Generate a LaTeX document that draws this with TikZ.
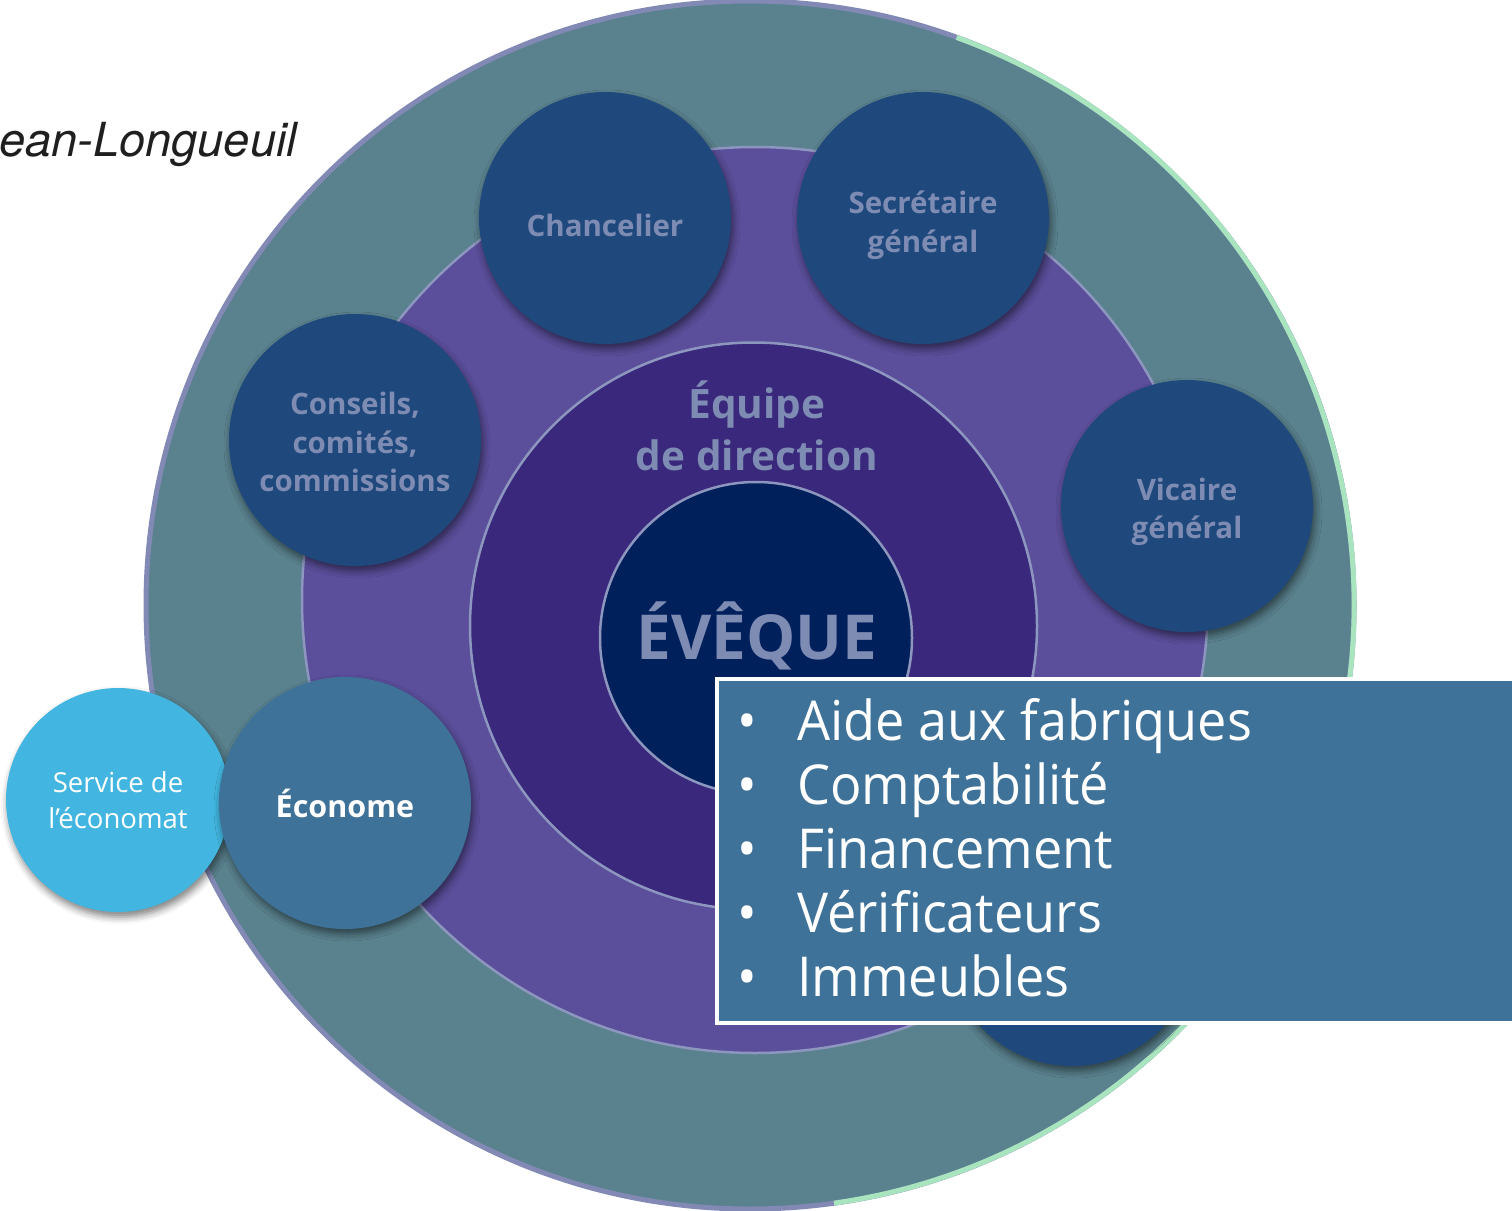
\documentclass[tikz,border=0pt]{standalone}
\usepackage{fontspec}
\setmainfont{Open Sans}
\newfontfamily\listfont[FakeStretch=0.95]{Open Sans}
\newfontfamily\helvfont{TeX Gyre Heros}
\usetikzlibrary{shadows.blur}
\definecolor{ringouter}{HTML}{5A828E}
\definecolor{ringpurple}{HTML}{5B4E9B}
\definecolor{ringdark}{HTML}{3A287C}
\definecolor{corenavy}{HTML}{00205B}
\definecolor{unitblue}{HTML}{1F497D}
\definecolor{econblue}{HTML}{3F7299}
\definecolor{servblue}{HTML}{42B6E0}
\definecolor{ringline}{HTML}{8C96BE}
\definecolor{outerlav}{HTML}{8289B4}
\definecolor{outergreen}{HTML}{A8E4BE}
\definecolor{labelgrey}{HTML}{7E8CB4}
\tikzset{
  ring/.style={circle, inner sep=0pt, outer sep=0pt},
  unit/.style={circle, inner sep=0pt, outer sep=0pt, minimum size=252pt,
    fill=unitblue,
    blur shadow={shadow xshift=2pt, shadow yshift=-5pt, shadow blur radius=7pt, shadow opacity=50}},
  unitlabel/.style={align=center, inner sep=0pt, text=labelgrey,
    font=\bfseries\fontsize{29.5}{38.5}\selectfont},
  listitem/.style={anchor=base west, inner sep=0pt, text=white,
    font=\listfont\fontsize{55}{64}\selectfont}
}
\begin{document}
\begin{tikzpicture}[x=1pt, y=-1pt]
\useasboundingbox (0,0) rectangle (1512,1210);
% rings
\node[ring, minimum size=1208pt, fill=ringouter, draw=outerlav, line width=5pt] (outer) at (750,605) {};
\draw[outergreen, line width=5pt] (outer.70) arc[start angle=-70, end angle=82, radius=604];
\node[ring, minimum size=906pt, fill=ringpurple, draw=ringline, line width=2.5pt] (team) at (755,600) {};
\node[ring, minimum size=567pt, fill=ringdark, draw=ringline, line width=2.5pt] (dir) at (753.5,626) {};
\node[ring, minimum size=312pt, fill=corenavy, draw=ringline, line width=2.5pt] (bishop) at (756,638) {};
% centre labels
\node[align=center, text=labelgrey, font=\bfseries\fontsize{40.5}{52}\selectfont, inner sep=0pt] (dirlabel) at (757,426) {Équipe\\de direction};
\node[anchor=base, text=labelgrey, font=\bfseries\fontsize{62}{72}\selectfont, inner sep=0pt] (bishoplabel) at (757,659) {ÉVÊQUE};
% title fragment
\node[anchor=base west, inner sep=0pt, text=black!88, font=\helvfont\itshape\fontsize{47}{56}\selectfont] (title) at (-1,156) {ean-Longueuil};
% units
\node[unit] (chan) at (605,218) {};
\node[unitlabel] (chanlabel) at ([yshift=-7pt]chan.center) {Chancelier};
\node[unit] (secr) at (923,218) {};
\node[unitlabel] (secrlabel) at ([yshift=-7pt]secr.center) {Secrétaire\\général};
\node[unit] (cons) at (355,440) {};
\node[unitlabel] (conslabel) at ([yshift=-2pt]cons.center) {Conseils,\\comités,\\commissions};
\node[unit] (vica) at (1187,506) {};
\node[unitlabel] (vicalabel) at ([yshift=-6pt]vica.center) {Vicaire\\général};
\node[unit] (hidden) at (1072,940) {};
\node[unit, minimum size=224pt, fill=servblue] (serv) at (118,800) {};
\node[align=center, inner sep=0pt, text=white, font=\fontsize{27.5}{36}\selectfont] (servlabel) at (serv.center) {Service de\\l’économat};
\node[unit, fill=econblue] (econ) at (345,803) {};
\node[inner sep=0pt, text=white, font=\bfseries\fontsize{30.5}{38}\selectfont] (econlabel) at (econ.center) {Économe};
% box
\node[anchor=north west, inner sep=0pt, outer sep=0pt, minimum width=830pt, minimum height=344pt, fill=econblue, draw=white, line width=4pt] (box) at (717,679) {};
\node[listitem] (i1) at (797,740) {\makebox[0pt][r]{\textbullet\hspace{40pt}}Aide aux fabriques};
\node[listitem] (i2) at (797,804) {\makebox[0pt][r]{\textbullet\hspace{40pt}}Comptabilité};
\node[listitem] (i3) at (797,868) {\makebox[0pt][r]{\textbullet\hspace{40pt}}Financement};
\node[listitem] (i4) at (797,932) {\makebox[0pt][r]{\textbullet\hspace{40pt}}Vérificateurs};
\node[listitem] (i5) at (797,996) {\makebox[0pt][r]{\textbullet\hspace{40pt}}Immeubles};
\end{tikzpicture}
\end{document}
